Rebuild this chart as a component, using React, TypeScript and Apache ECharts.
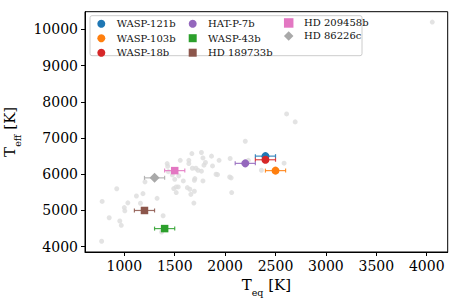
import React, { useEffect, useRef } from "react";
import * as echarts from "echarts";

// Background exoplanet sample (Teq [K], Teff [K])
const bgTeq = [2200, 780, 775, 850, 925, 1000, 1005, 1035, 955, 970, 1120, 1185, 1160, 1205, 1325, 1385, 1370, 1425, 1430, 1437, 1476, 1500, 1490, 1515, 1515, 1535, 1555, 1640, 1640, 1670, 1675, 1710, 1700, 1695, 1730, 1765, 1780, 1805, 1790, 1865, 1875, 1910, 1925, 1940, 2050, 2045, 2060, 2065, 1625, 1650, 1660, 1695, 1690, 1585, 1540, 1765, 2230, 2360, 2585, 1780, 2610, 2695, 4055];
const bgTeff = [6910, 5250, 4150, 4800, 5600, 5080, 4990, 5210, 4710, 4590, 5400, 5465, 5200, 5790, 5335, 4855, 4405, 6295, 6220, 6072, 5981, 5860, 5605, 5650, 5495, 5650, 6385, 6385, 6295, 6570, 6165, 6165, 5880, 5835, 6110, 6600, 6450, 6325, 6250, 6500, 6230, 6000, 5990, 6385, 6435, 5925, 5900, 5495, 5630, 5585, 5445, 5530, 5205, 5815, 5955, 6085, 6385, 6110, 6305, 5815, 7665, 7445, 10200];

// Highlighted planets
const planetNames = ["WASP-121b", "WASP-103b", "WASP-18b", "HAT-P-7b", "WASP-43b", "HD 189733b", "HD 209458b", "HD 86226c"];
const planetTeq = [2400, 2500, 2400, 2200, 1400, 1200, 1500, 1300];
const planetTeqErr = [100, 100, 100, 100, 100, 100, 100, 100];
const planetTeff = [6500, 6100, 6400, 6300, 4500, 5000, 6100, 5900];
const planetColors = ["#1f77b4", "#ff7f0e", "#d62728", "#9467bd", "#2ca02c", "#8c564b", "#e377c2", "#a9a9a9"];
const planetSymbols = ["circle", "circle", "circle", "circle", "rect", "rect", "rect", "diamond"];
const planetSizes = [8, 8, 8, 8, 7.5, 7.5, 7.5, 10];

// Axis ticks
const xTicks = [1000, 1500, 2000, 2500, 3000, 3500, 4000];
const yTicks = [4000, 5000, 6000, 7000, 8000, 9000, 10000];

const legendCols = [
  [0, 1, 2],
  [3, 4, 5],
  [6, 7],
];
const legendColCenter = [101.3, 192.7, 288.7];
const legendColIcon = [8, 8, 9.5];

const FONT = "DejaVu Serif";

export default function App() {
  const ref = useRef<HTMLDivElement>(null);
  useEffect(() => {
    if (!ref.current) return;
    const chart = echarts.init(ref.current, null, { renderer: "svg" });

    const errData = planetNames.map((_, i) => [
      planetTeq[i],
      planetTeff[i],
      planetTeq[i] - planetTeqErr[i],
      planetTeq[i] + planetTeqErr[i],
      i,
    ]);

    const planetSeries = planetNames.map((name, i) => ({
      name,
      type: "scatter",
      data: [[planetTeq[i], planetTeff[i]]],
      symbol: planetSymbols[i],
      symbolSize: planetSizes[i],
      itemStyle: { color: planetColors[i], opacity: 1 },
      z: 5,
      silent: true,
    }));

    const rich = {
      t: { fontSize: 15, fontFamily: FONT, color: "#000", verticalAlign: "top", lineHeight: 17 },
      s: { fontSize: 9.5, fontFamily: FONT, color: "#000", verticalAlign: "middle", lineHeight: 30 },
    };

    const option: any = {
      animation: false,
      backgroundColor: "#fff",
      textStyle: { fontFamily: FONT },
      grid: {
        left: 85,
        right: 12.3,
        top: 11.7,
        bottom: 55,
        containLabel: false,
        outerBoundsMode: "none",
        show: true,
        borderColor: "#000",
        borderWidth: 1,
        backgroundColor: "transparent",
      },
      xAxis: {
        type: "value",
        min: 610,
        max: 4208,
        axisLine: { show: true, lineStyle: { color: "#000", width: 1 } },
        axisTick: { show: true, length: 4, lineStyle: { color: "#000" }, customValues: xTicks },
        axisLabel: {
          color: "#000",
          fontSize: 14,
          fontFamily: FONT,
          margin: 7,
          customValues: xTicks,
          formatter: (v: number) => String(v),
        },
        splitLine: { show: false },
        name: "{t|T}{s|eq}{t| [K]}",
        nameLocation: "middle",
        nameGap: 25,
        nameTextStyle: { rich },
      },
      yAxis: {
        type: "value",
        min: 3854,
        max: 10486,
        axisLine: { show: true, lineStyle: { color: "#000", width: 1 } },
        axisTick: { show: true, length: 4, lineStyle: { color: "#000" }, customValues: yTicks },
        axisLabel: {
          color: "#000",
          fontSize: 14,
          fontFamily: FONT,
          margin: 7,
          customValues: yTicks,
          formatter: (v: number) => String(v),
        },
        splitLine: { show: false },
        name: "{t|T}{s|eff}{t| [K]}",
        nameLocation: "middle",
        nameRotate: 90,
        nameGap: 44,
        nameTextStyle: { rich },
      },
      legend: legendCols.map((col, ci) => ({
        orient: "vertical",
        left: legendColCenter[ci] - legendColIcon[ci] / 2,
        top: 22.7 - legendColIcon[ci] / 2,
        padding: 0,
        itemGap: 12.5 - legendColIcon[ci],
        itemWidth: legendColIcon[ci],
        itemHeight: legendColIcon[ci],
        selectedMode: false,
        z: 20,
        textStyle: {
          fontFamily: FONT,
          fontSize: 10,
          color: "#111",
          padding: [0, 0, 0, 15.4 - legendColIcon[ci] / 2 - 5],
        },
        data: col.map((i) => ({ name: planetNames[i], icon: planetSymbols[i] })),
      })),
      graphic: [
        {
          type: "rect",
          z: 10,
          shape: { x: 90, y: 15.7, width: 272, height: 40, r: 2 },
          style: { fill: "rgba(255,255,255,0.85)", stroke: "#cccccc", lineWidth: 1 },
        },
      ],
      series: [
        {
          name: "sample",
          type: "scatter",
          data: bgTeq.map((x, i) => [x, bgTeff[i]]),
          symbol: "circle",
          symbolSize: 5,
          itemStyle: { color: "#dcdcdc" },
          z: 2,
          silent: true,
        },
        {
          name: "errorbars",
          type: "custom",
          data: errData,
          z: 4,
          silent: true,
          renderItem: (params: any, api: any) => {
            const y = api.value(1);
            const lo = api.coord([api.value(2), y]);
            const hi = api.coord([api.value(3), y]);
            const color = planetColors[api.value(4)];
            const style = { stroke: color, lineWidth: 1.2, opacity: 0.85 };
            const cap = 2;
            return {
              type: "group",
              children: [
                { type: "line", shape: { x1: lo[0], y1: lo[1], x2: hi[0], y2: hi[1] }, style },
                { type: "line", shape: { x1: lo[0], y1: lo[1] - cap, x2: lo[0], y2: lo[1] + cap }, style },
                { type: "line", shape: { x1: hi[0], y1: hi[1] - cap, x2: hi[0], y2: hi[1] + cap }, style },
              ],
            };
          },
        },
        ...planetSeries,
      ],
    };

    chart.setOption(option);
    return () => chart.dispose();
  }, []);

  return <div ref={ref} style={{ width: 460, height: 307, position: "absolute", left: 0, top: 0 }} />;
}
